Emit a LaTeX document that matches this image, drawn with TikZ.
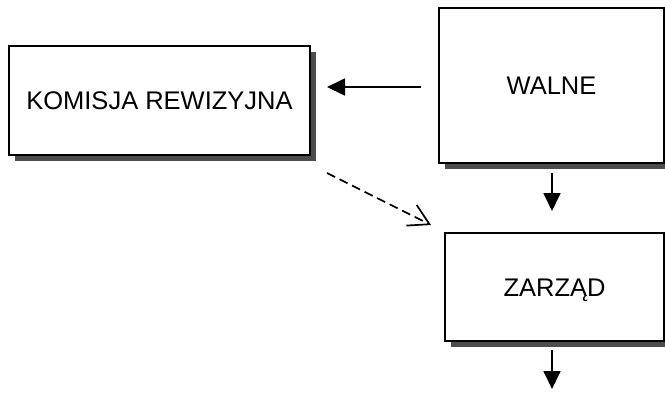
\documentclass[tikz,border=0pt]{standalone}
\usepackage{fontspec}
\setmainfont{Liberation Sans}
\usetikzlibrary{arrows.meta,shadows}
\begin{document}
\begin{tikzpicture}[x=1pt,y=-1pt,
  orgbox/.style={draw=black, line width=2pt, fill=white, inner sep=0pt,
    font=\fontsize{25.5}{30}\selectfont, text height=18pt, text depth=0pt,
    drop shadow={shadow xshift=6pt, shadow yshift=-6pt, fill=black!70, opacity=1}},
  arr/.style={line width=1.8pt, -{Triangle[length=18pt,width=17pt]}},
  darr/.style={line width=1.7pt, dash pattern=on 9pt off 5pt,
    -{Straight Barb[length=20pt,width=23pt,line width=1.7pt]}}
]
\useasboundingbox (0,0) rectangle (665,392);
\node[orgbox, minimum width=301pt, minimum height=109pt] (komisja) at (159.5,100.5) {KOMISJA REWIZYJNA};
\node[orgbox, minimum width=225pt, minimum height=155pt] (walne) at (551.5,85.5) {WALNE};
\node[orgbox, minimum width=219pt, minimum height=108pt] (zarzad) at (554.5,287) {ZARZĄD};
\coordinate (out) at (552,389);
\coordinate (wl) at ([xshift=-17pt,yshift=-1.5pt]walne.west);
\coordinate (kl) at ([xshift=16pt]komisja.east);
\coordinate (ws) at ([yshift=-9pt]walne.south);
\coordinate (zn) at ([yshift=21pt]zarzad.north);
\coordinate (zs) at ([yshift=-8pt]zarzad.south);
\draw[arr] (wl) -- (kl |- wl);
\draw[arr] (ws -| out) -- (zn -| out);
\draw[arr] (zs -| out) -- (out);
\draw[darr] ([shift={(16pt,-17pt)}]komisja.south east) -- ([shift={(-13pt,7pt)}]zarzad.north west);
\end{tikzpicture}
\end{document}
